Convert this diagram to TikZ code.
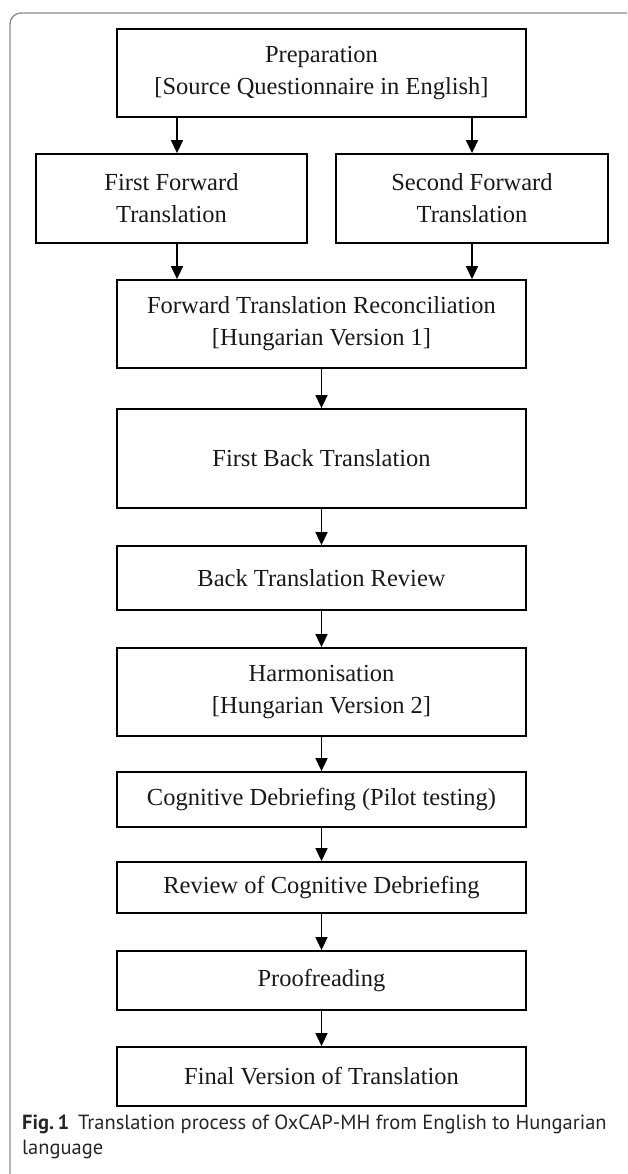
\documentclass[tikz,border=0pt]{standalone}
\usepackage{fontspec}
\setmainfont{Liberation Serif}
\newfontfamily\capfont{PT Sans}
\usetikzlibrary{arrows.meta,calc}
\begin{document}
\begin{tikzpicture}[x=1pt,y=-1pt,
  box/.style={draw=black, line width=1.8pt, align=center, inner sep=0pt,
    font=\fontsize{24.5}{32}\selectfont, text=black!90},
  arr/.style={line width=1.6pt, -{Triangle[width=12pt,length=13pt]}},
  framec/.style={draw=black!45, line width=1.3pt, rounded corners=11pt},
  caption/.style={font=\capfont\fontsize{20.5}{25}\selectfont, align=left, inner sep=0pt, text=black!85}
]
\useasboundingbox (0,0) rectangle (627,1174);
\begin{scope}
  \clip (0,0) rectangle (627,1174);
  \draw[framec] (10,13) rectangle (640,1190);
\end{scope}

\node[box, minimum width=409pt, minimum height=88pt] (prep) at (321.5,73)
  {Preparation\\ {[Source Questionnaire in English]}};
\node[box, minimum width=271pt, minimum height=89pt] (ff) at (171.5,198.5)
  {First Forward\\ Translation};
\node[box, minimum width=272pt, minimum height=89pt] (sf) at (472,198.5)
  {Second Forward\\ Translation};
\node[box, minimum width=409pt, minimum height=88pt] (recon) at (321.5,324)
  {Forward Translation Reconciliation\\ {[Hungarian Version 1]}};
\node[box, minimum width=409pt, minimum height=99pt] (fbt) at (321.5,458.5)
  {First Back Translation};
\node[box, minimum width=409pt, minimum height=64pt] (btr) at (321.5,578)
  {Back Translation Review};
\node[box, minimum width=409pt, minimum height=88pt] (harm) at (321.5,692)
  {Harmonisation\\ {[Hungarian Version 2]}};
\node[box, minimum width=409pt, minimum height=55pt] (cog) at (321.5,799.5)
  {Cognitive Debriefing (Pilot testing)};
\node[box, minimum width=409pt, minimum height=51pt] (rev) at (321.5,887.5)
  {Review of Cognitive Debriefing};
\node[box, minimum width=409pt, minimum height=59pt] (proof) at (321.5,980.5)
  {Proofreading};
\node[box, minimum width=409pt, minimum height=59pt] (final) at (321.5,1076.5)
  {Final Version of Translation};

\path ($(ff.north)+(5.5,0)$) coordinate (ffin);
\path ($(ff.south)+(5.5,0)$) coordinate (ffout);
\draw[arr] (ffin |- prep.south) -- (ffin);
\draw[arr] (sf.north |- prep.south) -- (sf.north);
\draw[arr] (ffout) -- (ffout |- recon.north);
\draw[arr] (sf.south) -- (sf.south |- recon.north);
\draw[arr] (recon.south) -- (fbt.north);
\draw[arr] (fbt.south) -- (btr.north);
\draw[arr] (btr.south) -- (harm.north);
\draw[arr] (harm.south) -- (cog.north);
\draw[arr] (cog.south) -- (rev.north);
\draw[arr] (rev.south) -- (proof.north);
\draw[arr] (proof.south) -- (final.north);

\node[caption, anchor=base west] (cap) at (22,1154)
  {{\bfseries Fig.\,1}\hspace{9pt}Translation process of OxCAP-MH from English to Hungarian\\ language};
\end{tikzpicture}
\end{document}
